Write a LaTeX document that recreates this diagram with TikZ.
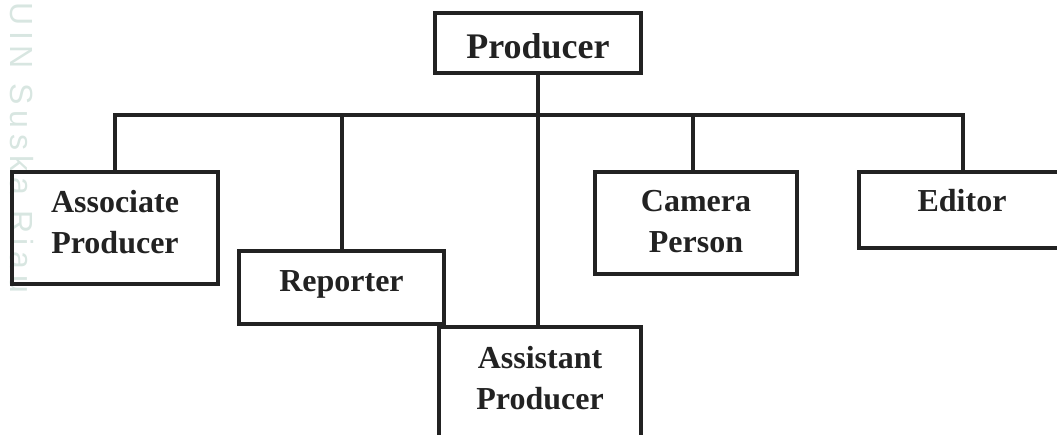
\documentclass[tikz,border=0pt]{standalone}
\usepackage{fontspec}
\setmainfont{Liberation Serif}
\newfontfamily\wmfont[LetterSpace=18]{Liberation Sans}
\usepackage{tikz}
\usetikzlibrary{positioning,calc}
\definecolor{inkc}{HTML}{222222}
\definecolor{wmc}{HTML}{D8E6E1}

\begin{document}
\begin{tikzpicture}[
            x=1pt,y=-1pt,
            unit/.style={draw=inkc,line width=4pt,inner sep=0pt,outer sep=0pt,
                align=center,text=inkc,font=\bfseries\fontsize{32}{41}\selectfont},
            head/.style={unit,font=\bfseries\fontsize{36}{43}\selectfont},
            wmark/.style={inner sep=0pt,text=wmc,font=\wmfont\fontsize{32}{38}\selectfont},
            link/.style={draw=inkc,line width=4pt}
        ]
        \useasboundingbox (0,0) rectangle (1057,435);

        % Watermark %
        \node[wmark,anchor=base west,rotate=-90] (wm) at (10,2) {UIN Suska Riau};

        % Draw top %
        \node[head,minimum width=206pt,minimum height=60pt,text height=32pt,text depth=0pt] (prod) at (538,43) {Producer};
        \coordinate (bus) at (538,115);

        % Draw units %
        \node[unit,minimum width=206pt,minimum height=112pt,text depth=13pt] (assoc) at (115,228) {Associate\\Producer};
        \node[unit,minimum width=205pt,minimum height=73pt,text height=22pt,text depth=13pt] (rep) at (341.5,287.5) {Reporter};
        \node[unit,minimum width=202pt,minimum height=143pt,text depth=42pt] (asst) at (540,398.5) {Assistant\\Producer};
        \node[unit,minimum width=202pt,minimum height=102pt,text depth=3pt] (cam) at (696,223) {Camera\\Person};
        \node[unit,minimum width=206pt,minimum height=76pt,text height=22pt,text depth=18pt] (edit) at (962,210) {Editor};

        % Draw links %
        \draw[link] (prod.south) -- (prod.south |- asst.north);
        \draw[link] (assoc.north) |- (bus) -| ($(edit.north)+(1,0)$);
        \draw[link] (rep.north) -- (rep.north |- bus);
        \draw[link] ($(cam.north)+(-3,0)$) -- ($(cam.north |- bus)+(-3,0)$);
        \end{tikzpicture}
\end{document}
